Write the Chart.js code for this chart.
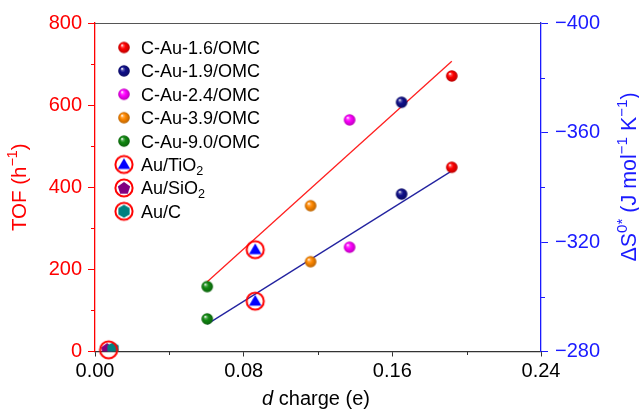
<!DOCTYPE html>
<html><head><meta charset="utf-8">
<script src="https://cdn.jsdelivr.net/npm/chart.js@4.4.1/dist/chart.umd.min.js"></script>
<style>html,body{margin:0;padding:0;background:#fff}#wrap{width:639px;height:413px;position:relative}</style>
</head><body><div id="wrap"><canvas id="c"></canvas></div>
<script>
// ---------- data ----------
const categories = ['C-Au-1.6/OMC','C-Au-1.9/OMC','C-Au-2.4/OMC','C-Au-3.9/OMC','C-Au-9.0/OMC','Au/TiO_2','Au/SiO_2','Au/C'];
const dCharge = [0.192, 0.165, 0.137, 0.116, 0.0604, 0.0862, 0.0065, 0.0097];
const tofValues = [671, 607, 564, 355, 158, 248, 6, 7];
const entropyValues = [-347.3, -337.5, -318.1, -312.8, -291.9, -298.4, null, null];
const tofFitX = [0.0604, 0.192];
const tofFitY = [170, 707];
const entropyFitX = [0.0604, 0.192];
const entropyFitY = [-290.0, -346.0];
const ringX = [0.0073];
const ringY = [4];
const xTickValues = [0, 0.08, 0.16, 0.24];
const xTickLabels = ['0.00','0.08','0.16','0.24'];
const tofTickValues = [0, 200, 400, 600, 800];
const tofTickLabels = ['0','200','400','600','800'];
const entropyTickValues = [-400, -360, -320, -280];
const entropyTickLabels = ['\u2212400','\u2212360','\u2212320','\u2212280'];
const xMinorTicks = [0.04, 0.12, 0.20];
const tofMinorTicks = [100, 300, 500, 700];
const entropyMinorTicks = [-380, -340, -300];

// ---------- styles ----------
const FONT = '"Liberation Sans", Arial, Helvetica, sans-serif';
const RED = '#ff0000', BLUE = '#1a1aff', LINE_BLUE = '#2323a0', AX = '#333333';
const sphereColors = ['#ff0000','#10108a','#ff00ff','#ff8800','#118811'];

function labelFor(values, labels){
  return (v) => { const k = values.findIndex(t => Math.abs(t - v) < 1e-6); return k < 0 ? '' : labels[k]; };
}
function shade(hex, f){
  const n = parseInt(hex.slice(1),16);
  const r=(n>>16)&255,g=(n>>8)&255,b=n&255;
  return 'rgb('+Math.round(r*f)+','+Math.round(g*f)+','+Math.round(b*f)+')';
}
function tint(hex, f){
  const n = parseInt(hex.slice(1),16);
  const r=(n>>16)&255,g=(n>>8)&255,b=n&255;
  return 'rgb('+Math.round(r+(255-r)*f)+','+Math.round(g+(255-g)*f)+','+Math.round(b+(255-b)*f)+')';
}
function sphere(color, r){
  const s = Math.ceil(r*2+2), c = document.createElement('canvas'); c.width=c.height=s;
  const g = c.getContext('2d'), cx=s/2, cy=s/2;
  const gr = g.createRadialGradient(cx-r*0.35, cy-r*0.4, r*0.05, cx, cy, r);
  gr.addColorStop(0, '#ffffff'); gr.addColorStop(0.2, tint(color,0.3)); gr.addColorStop(0.45, color); gr.addColorStop(1, shade(color,0.72));
  g.fillStyle = gr; g.beginPath(); g.arc(cx,cy,r,0,Math.PI*2); g.fill();
  return c;
}
function polyPath(g, cx, cy, r, n, rot){
  g.beginPath();
  for(let k=0;k<n;k++){const a=rot+k*2*Math.PI/n; const px=cx+r*Math.cos(a), py=cy+r*Math.sin(a); k?g.lineTo(px,py):g.moveTo(px,py);}
  g.closePath();
}
function marker(kind, withRing){
  const s = 22, c = document.createElement('canvas'); c.width=c.height=s;
  const g = c.getContext('2d'), cx=s/2, cy=s/2;
  if(kind==='tri'){ g.fillStyle='#0000ff'; polyPath(g,cx,cy+1,7.2,3,-Math.PI/2); g.fill(); }
  if(kind==='pent'){ g.fillStyle='#800080'; polyPath(g,cx,cy+0.5,6.5,5,-Math.PI/2); g.fill(); }
  if(kind==='hex'){ g.fillStyle='#008080'; polyPath(g,cx,cy,6.5,6,-Math.PI/2); g.fill(); }
  if(withRing){ g.strokeStyle=RED; g.lineWidth=2; g.beginPath(); g.arc(cx,cy,8.6,0,Math.PI*2); g.stroke(); }
  return c;
}
const spheres = sphereColors.map(c=>sphere(c,5.8));
const triRing = marker('tri', true);
const pentRing = marker('pent', true), hexRing = marker('hex', true);
const pent = marker('pent', false), hex = marker('hex', false), ringOnly = marker('none', true);
const legendIcons = [...spheres, triRing, pentRing, hexRing];

// ---------- datasets ----------
const datasets = [];
datasets.push({type:'line', data: tofFitX.map((x,i)=>({x, y: tofFitY[i]})), yAxisID:'yL', borderColor:'#ff2020', borderWidth:1.3, pointRadius:0, order:10, clip:false});
datasets.push({type:'line', data: entropyFitX.map((x,i)=>({x, y: entropyFitY[i]})), yAxisID:'yR', borderColor:LINE_BLUE, borderWidth:1.3, pointRadius:0, order:10, clip:false});
for(let i=0;i<6;i++){
  const icon = i<5 ? spheres[i] : triRing;
  datasets.push({type:'scatter', label: categories[i], data:[{x:dCharge[i], y:tofValues[i]}], yAxisID:'yL', pointStyle:icon, pointRadius:6, order:2, clip:false});
  datasets.push({type:'scatter', label: categories[i], data:[{x:dCharge[i], y:entropyValues[i]}], yAxisID:'yR', pointStyle:icon, pointRadius:6, order:2, clip:false});
}
datasets.push({type:'scatter', label: categories[6], data:[{x:dCharge[6], y:tofValues[6]}], yAxisID:'yL', pointStyle:pent, pointRadius:6, order:4, clip:0});
datasets.push({type:'scatter', label: categories[7], data:[{x:dCharge[7], y:tofValues[7]}], yAxisID:'yL', pointStyle:hex, pointRadius:6, order:3, clip:0});
datasets.push({type:'scatter', label: 'ring', data: ringX.map((x,i)=>({x, y:ringY[i]})), yAxisID:'yL', pointStyle:ringOnly, pointRadius:9, order:0, clip:false});

// ---------- rich text helper ----------
function parseRich(str){ // _x subscript, ^{..} superscript, *d* italic
  const segs=[]; const re=/\^\{([^}]*)\}|_\{([^}]*)\}|_(.)|\*([^*]+)\*/g; let last=0,m;
  while((m=re.exec(str))){ if(m.index>last) segs.push({t:str.slice(last,m.index)});
    if(m[1]!==undefined) segs.push({t:m[1],sup:true}); else if(m[2]!==undefined) segs.push({t:m[2],sub:true});
    else if(m[3]!==undefined) segs.push({t:m[3],sub:true}); else segs.push({t:m[4],it:true});
    last=re.lastIndex; }
  if(last<str.length) segs.push({t:str.slice(last)});
  return segs;
}
function segFont(s,size){ const sz = (s.sup||s.sub)? size*0.7 : size; return (s.it?'italic ':'')+sz+'px '+FONT; }
function richWidth(g,segs,size){ let w=0; for(const s of segs){ g.font=segFont(s,size); w+=g.measureText(s.t).width; } return w; }
function drawRich(g,segs,x,y,size,color){ // x left, y baseline
  g.fillStyle=color; g.textBaseline='alphabetic'; g.textAlign='left';
  for(const s of segs){ g.font=segFont(s,size); const dy = s.sup? -size*0.42 : s.sub? size*0.22 : 0; g.fillText(s.t,x,y+dy); x+=g.measureText(s.t).width; }
}

const xTitle = '*d* charge (e)';
const tofTitle = 'TOF (h^{\u22121})';
const entropyTitle = '\u0394S^{0*} (J mol^{\u22121} K^{\u22121})';

const decor = {
  id:'decor',
  afterDraw(chart){
    const g = chart.ctx, a = chart.chartArea, sx = chart.scales.x, yl = chart.scales.yL, yr = chart.scales.yR;
    g.save();
    // top frame
    g.strokeStyle='#555'; g.lineWidth=1; g.beginPath(); g.moveTo(a.left,a.top+0.5); g.lineTo(a.right,a.top+0.5); g.stroke();
    // minor ticks
    g.lineWidth=1;
    g.strokeStyle=AX; for(const v of xMinorTicks){ const px=Math.round(sx.getPixelForValue(v))+0.5; g.beginPath(); g.moveTo(px,a.bottom); g.lineTo(px,a.bottom+3.5); g.stroke(); }
    g.strokeStyle=RED; for(const v of tofMinorTicks){ const py=Math.round(yl.getPixelForValue(v))+0.5; g.beginPath(); g.moveTo(a.left,py); g.lineTo(a.left-4,py); g.stroke(); }
    g.strokeStyle=BLUE; for(const v of entropyMinorTicks){ const py=Math.round(yr.getPixelForValue(v))+0.5; g.beginPath(); g.moveTo(a.right,py); g.lineTo(a.right+4,py); g.stroke(); }
    // axis titles
    let segs = parseRich(xTitle); let w = richWidth(g,segs,20);
    drawRich(g,segs,(a.left+a.right)/2 - 2 - w/2, 404.5, 20, '#000');
    segs = parseRich(tofTitle); w = richWidth(g,segs,20.5);
    g.save(); g.translate(25.5,(a.top+a.bottom)/2); g.rotate(-Math.PI/2); drawRich(g,segs,-w/2,0,20.5,RED); g.restore();
    segs = parseRich(entropyTitle); w = richWidth(g,segs,21.5);
    g.save(); g.translate(636,177); g.rotate(-Math.PI/2); drawRich(g,segs,-w/2,0,21.5,BLUE); g.restore();
    // legend
    for(let i=0;i<categories.length;i++){
      const cy = 47.5 + i*23.4, ic = legendIcons[i];
      g.drawImage(ic, 124-ic.width/2, cy-ic.height/2);
      const sg = parseRich(categories[i]);
      drawRich(g, sg, 141, cy+6.4, 18, '#000');
    }
    g.restore();
  }
};

Chart.defaults.font.family = FONT;
new Chart(document.getElementById('c'), {
  type:'scatter',
  data:{datasets},
  options:{
    responsive:true, maintainAspectRatio:false, animation:false,
    layout:{padding:{top:23,left:0,right:0,bottom:0}},
    plugins:{legend:{display:false}, tooltip:{enabled:false}},
    scales:{
      x:{type:'linear', position:'bottom', min:0, max:0.24,
        ticks:{stepSize:0.08, autoSkip:false, maxRotation:0, color:'#000', font:{size:20}, padding:3, callback:labelFor(xTickValues, xTickLabels)},
        grid:{drawOnChartArea:false, tickLength:5, color:AX, tickWidth:1},
        border:{color:AX, width:1.2},
        afterFit(s){ s.height = 61.5; }
      },
      yL:{type:'linear', position:'left', min:0, max:800,
        ticks:{stepSize:200, color:RED, font:{size:20}, padding:6, callback:labelFor(tofTickValues, tofTickLabels)},
        grid:{drawOnChartArea:false, tickLength:7, color:RED, tickWidth:1},
        border:{color:RED, width:1.3},
        afterFit(s){ s.width = 95; }
      },
      yR:{type:'linear', position:'right', min:-400, max:-280, reverse:true,
        ticks:{stepSize:40, color:BLUE, font:{size:20}, padding:7, callback:labelFor(entropyTickValues, entropyTickLabels)},
        grid:{drawOnChartArea:false, tickLength:7, color:BLUE, tickWidth:1},
        border:{color:BLUE, width:1.3},
        afterFit(s){ s.width = 98; }
      }
    }
  },
  plugins:[decor]
});
</script></body></html>
